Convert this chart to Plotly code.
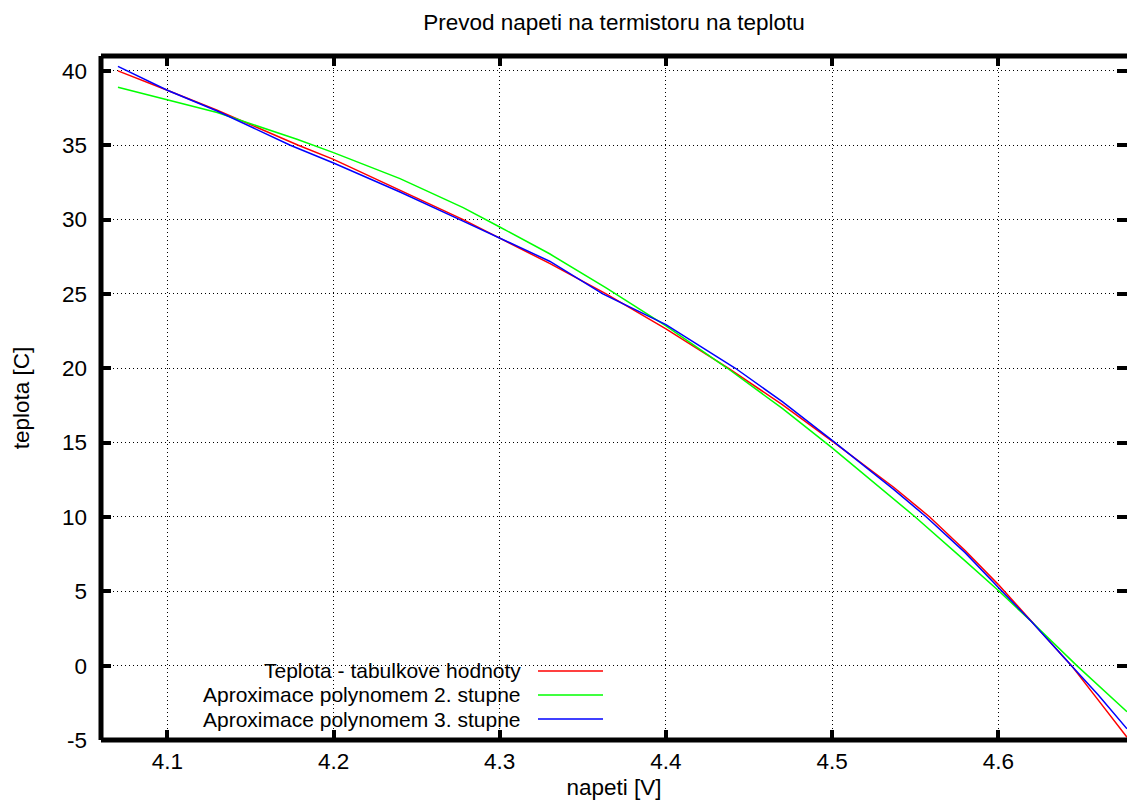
import plotly.graph_objects as go

# ---- data ----
red_v = [4.0703, 4.09, 4.10, 4.13, 4.1788, 4.20, 4.24, 4.278, 4.30, 4.33, 4.364, 4.40,
         4.4377, 4.47, 4.50, 4.537, 4.5587, 4.58, 4.60, 4.62, 4.644, 4.66, 4.6774]
red_t = [40.0, 39.15, 38.7, 37.35, 35.0, 34.05, 31.95, 30.0, 28.75, 27.05, 25.0, 22.65,
         20.0, 17.55, 15.1, 12.0, 10.0, 7.75, 5.45, 3.0, 0.0, -2.3, -4.82]

green_v = [4.0703, 4.09, 4.10, 4.13, 4.178, 4.20, 4.24, 4.278, 4.30, 4.33, 4.364, 4.40,
           4.437, 4.47, 4.50, 4.537, 4.55, 4.58, 4.60, 4.62, 4.6472, 4.6774]
green_t = [38.9, 38.35, 38.03, 37.2, 35.4, 34.5, 32.75, 30.8, 29.5, 27.7, 25.4, 22.85,
           20.0, 17.3, 14.65, 11.2, 10.0, 7.05, 5.05, 2.95, 0.0, -3.1]

blue_v = [4.0703, 4.09, 4.10, 4.13, 4.174, 4.20, 4.24, 4.276, 4.30, 4.33, 4.362, 4.40,
          4.4418, 4.47, 4.50, 4.537, 4.5567, 4.58, 4.60, 4.62, 4.644, 4.66, 4.6774]
blue_t = [40.3, 39.25, 38.7, 37.3, 35.0, 33.8, 31.85, 30.0, 28.75, 27.2, 25.0, 22.93,
          20.0, 17.75, 15.15, 11.85, 10.0, 7.6, 5.25, 2.95, 0.0, -1.95, -4.25]

series_names = ["Teplota - tabulkove hodnoty",
                "Aproximace polynomem 2. stupne",
                "Aproximace polynomem 3. stupne"]
series_colors = ["#ff0000", "#00ff00", "#0000ff"]

x_ticks = [4.1, 4.2, 4.3, 4.4, 4.5, 4.6]
x_ticklabels = ["4.1", "4.2", "4.3", "4.4", "4.5", "4.6"]
y_ticks = [-5, 0, 5, 10, 15, 20, 25, 30, 35, 40]
y_ticklabels = ["-5", "0", "5", "10", "15", "20", "25", "30", "35", "40"]

title_text = "Prevod napeti na termistoru na teplotu"
x_title = "napeti [V]"
y_title = "teplota [C]"
x_range = [4.0601, 4.6774]
y_range = [-5, 41]

FONT = "Liberation Sans, Arial, Helvetica, sans-serif"
FS = 22.5
LEG_FS = 21

fig = go.Figure()
for v, t, name, col in zip([red_v, green_v, blue_v], [red_t, green_t, blue_t],
                           series_names, series_colors):
    fig.add_trace(go.Scatter(x=v, y=t, mode="lines", name=name,
                             line=dict(color=col, width=1.5), showlegend=False))

axis_common = dict(
    showline=False, zeroline=False,
    showgrid=True, gridcolor="#000000", gridwidth=1, griddash="1px,3px",
    ticks="inside", ticklen=10, tickwidth=4, tickcolor="#000000",
    mirror="ticks",
    tickfont=dict(family=FONT, size=FS, color="#000000"),
    title_font=dict(family=FONT, size=FS, color="#000000"),
)

fig.update_xaxes(range=x_range, tickvals=x_ticks, ticktext=x_ticklabels,
                 title_text=x_title, title_standoff=6, ticklabelstandoff=5,
                 **axis_common)
fig.update_yaxes(range=y_range, tickvals=y_ticks, ticktext=y_ticklabels,
                 title_text=y_title, title_standoff=26, ticklabelstandoff=13,
                 **axis_common)

# frame (left, top, bottom border)
frame = [((0, 0), (0, 1)), ((0, 1), (1, 1)), ((0, 0), (1, 0))]
for (x0, y0), (x1, y1) in frame:
    fig.add_shape(type="line", xref="paper", yref="paper", x0=x0, y0=y0, x1=x1, y1=y1,
                  line=dict(color="#000000", width=5), layer="above")

# custom legend (text right aligned, sample line to the right), on white box
fig.add_shape(type="rect", xref="paper", yref="paper", x0=0.0, y0=0.0, x1=0.4995, y1=0.118,
              fillcolor="#ffffff", line=dict(width=0), layer="between")
row_y = [0.1009, 0.0658, 0.0307]
for name, col, yy in zip(series_names, series_colors, row_y):
    fig.add_annotation(xref="paper", yref="paper", x=0.4113, y=yy, text=name,
                       showarrow=False, xanchor="right", yanchor="middle",
                       font=dict(family=FONT, size=LEG_FS, color="#000000"))
    fig.add_shape(type="line", xref="paper", yref="paper", x0=0.4259, x1=0.4893,
                  y0=yy, y1=yy, line=dict(color=col, width=1.5), layer="above")

fig.update_layout(
    width=1127, height=810,
    margin=dict(l=101, r=0, t=56, b=70),
    paper_bgcolor="#ffffff", plot_bgcolor="#ffffff",
    font=dict(family=FONT, size=FS, color="#000000"),
    title=dict(text=title_text, x=0.5, xref="paper", xanchor="center",
               y=0.973, yref="container", yanchor="middle",
               font=dict(family=FONT, size=FS, color="#000000")),
    showlegend=False,
)

fig.write_html("out.html")
